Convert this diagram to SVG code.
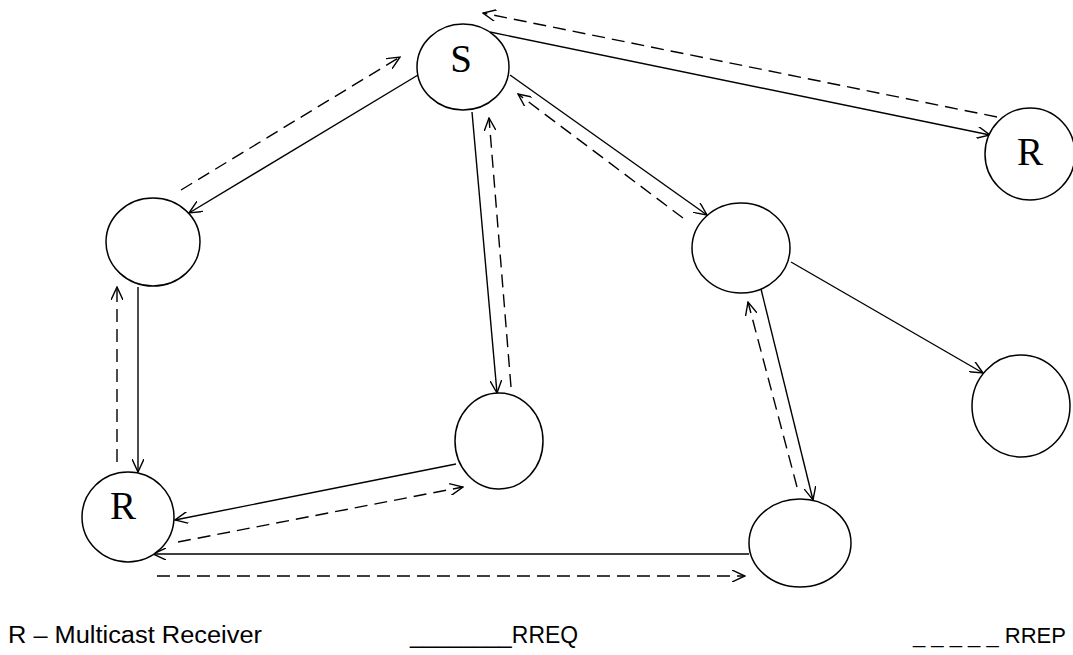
<svg xmlns="http://www.w3.org/2000/svg" width="1073" height="655" viewBox="0 0 1073 655">
<style>
.node{fill:#fff;stroke:#000;stroke-width:1.5}
.lbl{font-family:"Liberation Serif","Times New Roman",serif;font-size:39px;fill:#000;text-anchor:middle}
.req{stroke:#000;stroke-width:1.4;fill:none;marker-end:url(#ah)}
.rep{stroke:#000;stroke-width:1.4;fill:none;stroke-dasharray:13 7;marker-end:url(#ah)}
.leg{font-family:"Liberation Sans",Arial,sans-serif;font-size:23px;fill:#000}
</style>
<defs>
<marker id="ah" viewBox="0 0 14 12" refX="13" refY="6" markerWidth="14" markerHeight="12" markerUnits="userSpaceOnUse" orient="auto">
<path d="M0,0 L13,6 L0,12" fill="none" stroke="#000" stroke-width="1.4"/>
</marker>
</defs>
<rect width="1073" height="655" fill="#fff"/>
<g id="connectors">
<line class="req" x1="490" y1="32" x2="990" y2="135"/>
<line class="rep" x1="997" y1="117" x2="483" y2="13"/>
<line class="req" x1="418" y1="75" x2="189" y2="213"/>
<line class="rep" x1="181" y1="190" x2="400" y2="57"/>
<line class="req" x1="472" y1="112" x2="497" y2="393"/>
<line class="rep" x1="511" y1="387" x2="489" y2="118"/>
<line class="req" x1="510" y1="75" x2="707" y2="215"/>
<line class="rep" x1="683" y1="218" x2="518" y2="94"/>
<line class="req" x1="791" y1="262" x2="983" y2="373"/>
<line class="req" x1="761" y1="289" x2="813" y2="500"/>
<line class="rep" x1="797" y1="487" x2="748" y2="302"/>
<line class="req" x1="138" y1="287" x2="138" y2="472"/>
<line class="rep" x1="117" y1="462" x2="117" y2="287"/>
<line class="req" x1="456" y1="464" x2="175" y2="520"/>
<line class="rep" x1="178" y1="542" x2="463" y2="487"/>
<line class="req" x1="749" y1="554" x2="153" y2="554"/>
<line class="rep" x1="157" y1="576" x2="745" y2="576"/>
</g>
<g id="node-S"><ellipse class="node" cx="463" cy="67" rx="46" ry="43"/><text class="lbl" x="461" y="72">S</text></g>
<g id="node-R1"><ellipse class="node" cx="1030" cy="154" rx="45" ry="46"/><text class="lbl" x="1030" y="165">R</text></g>
<g id="node-A"><ellipse class="node" cx="153" cy="242" rx="47" ry="44"/></g>
<g id="node-R2"><ellipse class="node" cx="128" cy="517" rx="46" ry="45"/><text class="lbl" x="123" y="519">R</text></g>
<g id="node-B"><ellipse class="node" cx="499" cy="441" rx="44" ry="48"/></g>
<g id="node-C"><ellipse class="node" cx="741" cy="248" rx="49" ry="45"/></g>
<g id="node-D"><ellipse class="node" cx="800" cy="543" rx="51" ry="44"/></g>
<g id="node-E"><ellipse class="node" cx="1021" cy="406" rx="49" ry="51"/></g>
<g id="legend">
<text class="leg" x="8" y="643" textLength="254" lengthAdjust="spacingAndGlyphs">R – Multicast Receiver</text>
<text class="leg" x="410" y="643" textLength="168" lengthAdjust="spacingAndGlyphs">________RREQ</text>
<text class="leg" x="913" y="643" style="font-size:22px">_ _ _ _ _ RREP</text>
</g>
</svg>
